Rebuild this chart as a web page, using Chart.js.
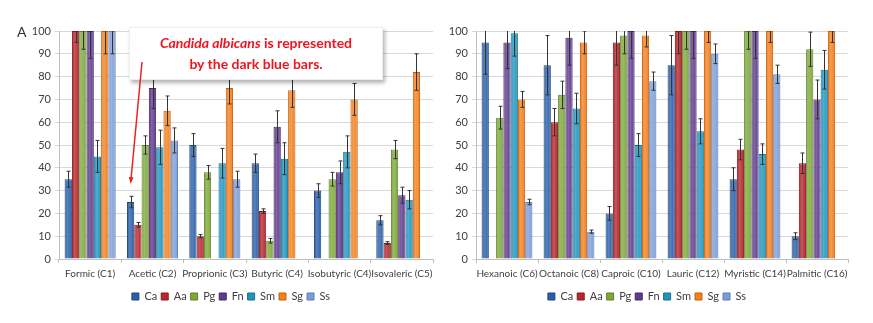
<!DOCTYPE html>
<html>
<head>
<meta charset="utf-8">
<script src="https://cdn.jsdelivr.net/npm/chart.js@4/dist/chart.umd.min.js"></script>
<style>
  body { margin: 0; background: #fff; width: 873px; height: 323px; overflow: hidden; position: relative; font-family: Lato, sans-serif; }
  canvas { position: absolute; top: 0; }
  #left { left: 0; }
  #right { left: 436px; }
  #tag { position: absolute; left: 17px; top: 23px; font-size: 14px; color: #333; }
  #note {
    position: absolute; left: 129px; top: 27px; width: 254px; height: 53px; z-index: 2;
    background: #fff; border: 1px solid #eee; box-sizing: border-box;
    box-shadow: 2px 3px 4px rgba(0, 0, 0, 0.3);
    color: #f0141e; font-weight: bold; font-size: 14px; line-height: 21px;
    text-align: center; padding-top: 4px;
  }
  #arrow { z-index: 3; pointer-events: none; left: 0; }
</style>
</head>
<body>
<canvas id="left" width="466" height="323"></canvas>
<canvas id="right" width="430" height="323"></canvas>
<div id="tag">A</div>
<div id="note"><i>Candida albicans</i> is represented<br>by the dark blue bars.</div>
<canvas id="arrow" width="466" height="323"></canvas>
<script>
const series = ['Ca', 'Aa', 'Pg', 'Fn', 'Sm', 'Sg', 'Ss'];
const colors = ['#2a5fa8', '#b5282e', '#7ea83a', '#5e3a8c', '#2096be', '#f4801f', '#7c9ed8'];
const borders = ['#1d477f', '#88191e', '#5e8028', '#432869', '#146f8c', '#c35f0c', '#5b7db5'];
const yTicks = [0, 10, 20, 30, 40, 50, 60, 70, 80, 90, 100];

// left panel: short chain acids
const shortAcids = ['Formic (C1)', 'Acetic (C2)', 'Proprionic (C3)', 'Butyric (C4)', 'Isobutyric (C4)', 'Isovaleric (C5)'];
const shortCa = [35, 25, 50, 42, 30, 17];
const shortAa = [100, 15, 10, 21, null, 7];
const shortPg = [100, 50, 38, 8, 35, 48];
const shortFn = [100, 75, null, 58, 38, 28];
const shortSm = [45, 49, 42, 44, 47, 26];
const shortSg = [100, 65, 75, 74, 70, 82];
const shortSs = [100, 52, 35, null, null, null];
const shortCaErr = [3.5, 2.5, 5, 4, 3, 2];
const shortAaErr = [5, 1, 0.7, 1, 0, 0.6];
const shortPgErr = [8, 4, 3, 1, 3, 4];
const shortFnErr = [12, 9, 0, 7, 5, 3.5];
const shortSmErr = [7, 7.5, 6.5, 7, 7, 4];
const shortSgErr = [10, 6.5, 7, 7.5, 7, 8];
const shortSsErr = [10, 5.5, 3.5, 0, 0, 0];

// right panel: longer chain acids
const longAcids = ['Hexanoic (C6)', 'Octanoic (C8)', 'Caproic (C10)', 'Lauric (C12)', 'Myristic (C14)', 'Palmitic (C16)'];
const longCa = [95, 85, 20, 85, 35, 10];
const longAa = [null, 60, 95, 100, 48, 42];
const longPg = [62, 72, 98, 100, 100, 92];
const longFn = [95, 97, 100, 100, 100, 70];
const longSm = [99, 66, 50, 56, 46, 83];
const longSg = [70, 95, 98, 100, 100, 100];
const longSs = [25, 12, 78, 90, 81, null];
const longCaErr = [14, 13, 3, 13, 5, 1.5];
const longAaErr = [0, 6, 10, 10, 4.5, 4.5];
const longPgErr = [5, 6, 8, 8, 8, 7.5];
const longFnErr = [11.5, 12, 12, 12, 12, 8.5];
const longSmErr = [10, 6.7, 5, 5.5, 4.5, 8.5];
const longSgErr = [3.5, 5, 5, 5, 5, 5];
const longSsErr = [1.2, 0.7, 4, 4.3, 4, 0];

Chart.defaults.font.family = 'Lato, sans-serif';
Chart.defaults.font.size = 11;
Chart.defaults.color = '#404040';

function lighten(hex, amt) {
  const n = parseInt(hex.slice(1), 16);
  const mix = (c) => Math.round(c + (255 - c) * amt);
  return `rgb(${mix(n >> 16)}, ${mix((n >> 8) & 255)}, ${mix(n & 255)})`;
}

// excel-like shading across each bar
function barFill(i) {
  return (ctx) => {
    const el = ctx.element;
    if (!el || el.x == null || !isFinite(el.x) || !el.width) return colors[i];
    const g = ctx.chart.ctx.createLinearGradient(el.x - el.width / 2, 0, el.x + el.width / 2, 0);
    g.addColorStop(0, colors[i]);
    g.addColorStop(0.4, lighten(colors[i], 0.22));
    g.addColorStop(1, colors[i]);
    return g;
  };
}

const errorBars = {
  id: 'errorBars',
  afterDatasetsDraw(chart) {
    const ctx = chart.ctx;
    const y = chart.scales.y;
    const area = chart.chartArea;
    ctx.save();
    ctx.beginPath();
    ctx.rect(area.left, area.top, area.right - area.left, area.bottom - area.top);
    ctx.clip();
    ctx.strokeStyle = '#333';
    ctx.lineWidth = 1;
    chart.data.datasets.forEach((ds, di) => {
      chart.getDatasetMeta(di).data.forEach((bar, i) => {
        const v = ds.data[i];
        const e = ds.errors[i];
        if (v == null || !e) return;
        const x = Math.round(bar.x) + 0.5;
        const top = y.getPixelForValue(v + e);
        const bot = y.getPixelForValue(v - e);
        ctx.beginPath();
        ctx.moveTo(x, top); ctx.lineTo(x, bot);
        ctx.moveTo(x - 2, top); ctx.lineTo(x + 2, top);
        ctx.moveTo(x - 2, bot); ctx.lineTo(x + 2, bot);
        ctx.stroke();
      });
    });
    ctx.restore();
  }
};

function makeChart(id, labels, values, errors, padLeft, padRight) {
  const chart = new Chart(document.getElementById(id), {
    type: 'bar',
    data: {
      labels: labels,
      datasets: series.map((name, i) => ({
        label: name,
        data: values[i],
        errors: errors[i],
        backgroundColor: barFill(i),
        borderColor: borders[i],
        borderWidth: 1,
        categoryPercentage: 0.82,
        barPercentage: 1,
      })),
    },
    options: {
      responsive: false,
      animation: false,
      layout: { padding: { top: 31, left: padLeft, right: padRight, bottom: 11 } },
      plugins: {
        tooltip: { enabled: false },
        legend: {
          position: 'bottom',
          labels: {
            boxWidth: 7, boxHeight: 7, padding: 4, font: { size: 11 },
            generateLabels: (c) => Chart.defaults.plugins.legend.labels.generateLabels(c)
              .map((item, i) => ({ ...item, fillStyle: colors[i], strokeStyle: borders[i] })),
          },
        },
      },
      scales: {
        x: {
          afterFit: (scale) => { scale.height = 28; },
          grid: { offset: true, drawOnChartArea: false, tickLength: 4, color: '#bfbfbf' },
          border: { color: '#bfbfbf' },
          ticks: { padding: 5, maxRotation: 0, autoSkip: false, font: { size: 10 } },
        },
        y: {
          min: 0,
          max: 100,
          afterFit: (scale) => { scale.width = 30; },
          afterBuildTicks: (scale) => { scale.ticks = yTicks.map((v) => ({ value: v })); },
          grid: { color: '#d9d9d9', tickLength: 4 },
          border: { color: '#bfbfbf' },
          ticks: { padding: 4 },
        },
      },
    },
    plugins: [errorBars],
  });
  chart.update();
  return chart;
}

const leftChart = makeChart('left', shortAcids,
  [shortCa, shortAa, shortPg, shortFn, shortSm, shortSg, shortSs],
  [shortCaErr, shortAaErr, shortPgErr, shortFnErr, shortSmErr, shortSgErr, shortSsErr],
  29, 33);

makeChart('right', longAcids,
  [longCa, longAa, longPg, longFn, longSm, longSg, longSs],
  [longCaErr, longAaErr, longPgErr, longFnErr, longSmErr, longSgErr, longSsErr],
  10, 18);

// red pointer from the note down to the Candida albicans bar of Acetic acid
(function drawArrow() {
  const ctx = document.getElementById('arrow').getContext('2d');
  const note = document.getElementById('note');
  const bar = leftChart.getDatasetMeta(0).data[1];
  const x1 = note.offsetLeft + 13;
  const y1 = note.offsetTop + 35;
  const x2 = bar.x;
  const y2 = leftChart.scales.y.getPixelForValue(shortCa[1] + 8);
  const ang = Math.atan2(y2 - y1, x2 - x1);
  ctx.strokeStyle = '#f01e1e';
  ctx.fillStyle = '#f01e1e';
  ctx.lineWidth = 1.5;
  ctx.beginPath();
  ctx.moveTo(x1, y1);
  ctx.lineTo(x2 - 4 * Math.cos(ang), y2 - 4 * Math.sin(ang));
  ctx.stroke();
  ctx.beginPath();
  ctx.moveTo(x2, y2);
  ctx.lineTo(x2 - 7 * Math.cos(ang - 0.35), y2 - 7 * Math.sin(ang - 0.35));
  ctx.lineTo(x2 - 7 * Math.cos(ang + 0.35), y2 - 7 * Math.sin(ang + 0.35));
  ctx.closePath();
  ctx.fill();
})();
</script>
</body>
</html>
